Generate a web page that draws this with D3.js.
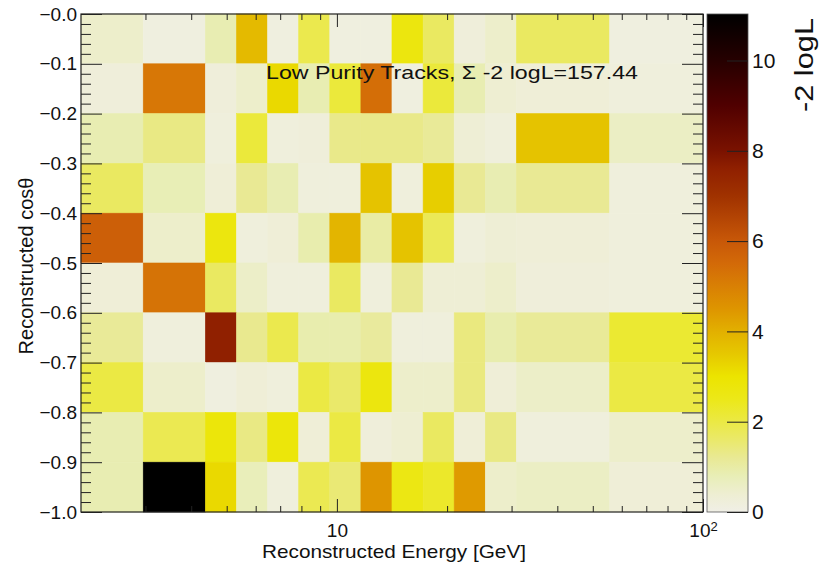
<!DOCTYPE html>
<html>
<head>
<meta charset="utf-8">
<script src="https://cdn.jsdelivr.net/npm/d3@7"></script>
<style>
  body { margin: 0; background: #fff; }
  svg { font-family: "Liberation Sans", Arial, sans-serif; }
</style>
</head>
<body>
<div id="chart"></div>
<script>
// bin edges of the 2D histogram
const energyEdges = [2, 2.958, 4.373, 5.318, 6.467, 7.864, 9.564, 11.63, 14.14, 17.20, 20.91, 25.43, 30.92, 55.61, 100]
const cosEdges = [0.0, -0.1, -0.2, -0.3, -0.4, -0.5, -0.6, -0.7, -0.8, -0.9, -1.0]

// -2 logL per cell, top row (cos 0 .. -0.1) first
const row0 = [0.5, 0.15, 0.85, 3.8, 0.15, 1.9, 0.15, 0.15, 2.7, 1.7, 0.25, 0.5, 1.7, 0.15]
const row1 = [0.25, 5.2, 0.25, 0.5, 3.2, 0.85, 2.1, 5.4, 0.15, 2.1, 0.85, 0.4, 0.3, 0.2]
const row2 = [0.85, 1.35, 0.2, 2.1, 0.2, 0.25, 1.3, 1.3, 1.3, 1.15, 0.35, 0.2, 3.6, 0.6]
const row3 = [1.7, 0.8, 0.3, 1.2, 0.85, 0.2, 0.2, 3.6, 0.2, 3.4, 1.2, 0.85, 1.2, 0.2]
const row4 = [5.8, 0.5, 2.7, 0.2, 0.3, 0.9, 3.9, 1.0, 3.6, 1.8, 0.2, 0.35, 0.3, 0.2]
const row5 = [0.3, 5.3, 1.7, 0.55, 0.2, 0.2, 1.7, 0.2, 1.2, 0.35, 0.35, 0.5, 0.25, 0.2]
const row6 = [1.15, 0.2, 7.6, 1.25, 1.9, 0.9, 0.9, 1.1, 0.2, 0.2, 1.4, 0.9, 1.15, 2.2]
const row7 = [2.0, 0.5, 0.15, 0.3, 0.2, 2.0, 1.6, 2.7, 0.5, 0.5, 1.4, 0.3, 0.55, 2.0]
const row8 = [0.85, 1.85, 2.8, 1.35, 2.8, 0.3, 2.0, 0.25, 0.4, 1.7, 0.3, 1.35, 0.2, 0.5]
const row9 = [0.85, 11.03, 3.2, 0.75, 0.2, 1.85, 1.5, 4.5, 2.6, 2.3, 4.4, 0.5, 0.6, 0.3]
const logL = [row0, row1, row2, row3, row4, row5, row6, row7, row8, row9]

const zMax = 11.03
const zTicks = [0, 2, 4, 6, 8, 10]
const xMajor = [10, 100]
const xMinor = [3, 4, 5, 6, 7, 8, 9, 20, 30, 40, 50, 60, 70, 80, 90]
const title = "Low Purity Tracks, \u03a3 -2 logL=157.44"

// palette (value, colour)
const palette = [
  [0, "#f0efe6"], [0.4, "#eeeed2"], [0.8, "#e8eeb6"], [1.2, "#e9e994"],
  [1.6, "#eae96a"], [2.0, "#ebe944"], [2.5, "#ece818"], [3.0, "#ece400"],
  [3.5, "#e6c800"], [4.0, "#e2b000"], [4.5, "#de9500"], [5.0, "#d98004"],
  [5.5, "#d36a08"], [6.0, "#c85808"], [7.0, "#a03200"], [7.6, "#902000"],
  [8.0, "#7a1200"], [9.0, "#500000"], [10.0, "#260000"], [11.03, "#000000"]
]

const width = 819
const height = 566
const L = 81, T = 14, R = 703, B = 512
const cbL = 707, cbR = 748

const svg = d3.select("#chart")
  .append("svg")
  .attr("width", width)
  .attr("height", height)

const x = d3.scaleLog().domain([2, 100]).range([L, R])
const y = d3.scaleLinear().domain([-1, 0]).range([B, T])
const z = d3.scaleLinear().domain([0, zMax]).range([B, T])
const color = d3.scaleLinear()
  .domain(palette.map(d => d[0]))
  .range(palette.map(d => d[1]))
  .clamp(true)

// cells
const cells = []
logL.forEach((row, i) => {
  row.forEach((v, j) => {
    cells.push({x0: energyEdges[j], x1: energyEdges[j + 1], y0: cosEdges[i], y1: cosEdges[i + 1], v: v})
  })
})

svg.append("g")
  .selectAll("rect")
  .data(cells)
  .join("rect")
    .attr("x", d => x(d.x0))
    .attr("y", d => y(d.y0))
    .attr("width", d => x(d.x1) - x(d.x0))
    .attr("height", d => y(d.y1) - y(d.y0))
    .attr("fill", d => color(d.v))
    .attr("stroke", d => color(d.v))
    .attr("stroke-width", 0.6)

// axes
function clean(g) {
  g.select(".domain").remove()
  g.selectAll(".tick line").attr("stroke", "#222")
}

svg.append("g").attr("transform", `translate(0,${B})`)
  .call(d3.axisBottom(x).tickValues(xMinor).tickSizeInner(-6).tickSizeOuter(0).tickFormat(""))
  .call(clean)

const gxMajor = svg.append("g").attr("transform", `translate(0,${B})`)
  .call(d3.axisBottom(x).tickValues(xMajor).tickSizeInner(-13).tickSizeOuter(0).tickPadding(12).tickFormat(d => "10"))
  .call(clean)
gxMajor.selectAll(".tick text")
  .attr("font-size", 19)
  .attr("fill", "#111")
  .attr("font-family", "Liberation Sans, Arial, sans-serif")
  .each(function(d) {
    if (d === 100) {
      d3.select(this).append("tspan").attr("dy", "-0.5em").attr("font-size", 13).text("2")
    }
  })

svg.append("g").attr("transform", `translate(0,${T})`)
  .call(d3.axisTop(x).tickValues(xMinor).tickSizeInner(-6).tickSizeOuter(0).tickFormat(""))
  .call(clean)
svg.append("g").attr("transform", `translate(0,${T})`)
  .call(d3.axisTop(x).tickValues(xMajor).tickSizeInner(-13).tickSizeOuter(0).tickFormat(""))
  .call(clean)

const yMinor = d3.range(-100, 1, 2).map(d => d / 100).filter(d => Math.round(d * 100) % 10 !== 0)
const fmtY = d => d === 0 ? "\u22120.0" : d3.format(".1f")(d)

const gy = svg.append("g").attr("transform", `translate(${L},0)`)
  .call(d3.axisLeft(y).tickValues(cosEdges).tickSizeInner(-21).tickSizeOuter(0).tickPadding(4).tickFormat(fmtY))
  .call(clean)
gy.selectAll(".tick text")
  .attr("font-size", 19)
  .attr("fill", "#111")
  .attr("font-family", "Liberation Sans, Arial, sans-serif")

svg.append("g").attr("transform", `translate(${L},0)`)
  .call(d3.axisLeft(y).tickValues(yMinor).tickSizeInner(-10).tickSizeOuter(0).tickFormat(""))
  .call(clean)
svg.append("g").attr("transform", `translate(${R},0)`)
  .call(d3.axisRight(y).tickValues(cosEdges).tickSizeInner(-21).tickSizeOuter(0).tickFormat(""))
  .call(clean)
svg.append("g").attr("transform", `translate(${R},0)`)
  .call(d3.axisRight(y).tickValues(yMinor).tickSizeInner(-10).tickSizeOuter(0).tickFormat(""))
  .call(clean)

// frame
svg.append("rect")
  .attr("x", L).attr("y", T)
  .attr("width", R - L).attr("height", B - T)
  .attr("fill", "none")
  .attr("stroke", "#222")
  .attr("stroke-width", 1.2)

// colour bar
const grad = svg.append("defs").append("linearGradient")
  .attr("id", "zgrad")
  .attr("x1", 0).attr("y1", 1).attr("x2", 0).attr("y2", 0)
grad.selectAll("stop")
  .data(palette)
  .join("stop")
    .attr("offset", d => d[0] / zMax)
    .attr("stop-color", d => d[1])

svg.append("rect")
  .attr("x", cbL).attr("y", T)
  .attr("width", cbR - cbL).attr("height", B - T)
  .attr("fill", "url(#zgrad)")
  .attr("stroke", "#555")
  .attr("stroke-width", 0.8)

const gz = svg.append("g").attr("transform", `translate(${cbR},0)`)
  .call(d3.axisRight(z).tickValues(zTicks).tickSizeInner(-21).tickSizeOuter(0).tickPadding(4).tickFormat(d3.format("d")))
  .call(clean)
gz.selectAll(".tick text")
  .attr("font-size", 21)
  .attr("fill", "#111")
  .attr("font-family", "Liberation Sans, Arial, sans-serif")

// texts
svg.append("text")
  .attr("x", 266)
  .attr("y", 79)
  .attr("font-size", 19)
  .attr("textLength", 372)
  .attr("lengthAdjust", "spacingAndGlyphs")
  .attr("fill", "#111")
  .text(title)

svg.append("text")
  .attr("x", 394)
  .attr("y", 558)
  .attr("text-anchor", "middle")
  .attr("font-size", 19)
  .attr("textLength", 264)
  .attr("lengthAdjust", "spacingAndGlyphs")
  .attr("fill", "#111")
  .text("Reconstructed Energy [GeV]")

svg.append("text")
  .attr("transform", "translate(33,266) rotate(-90)")
  .attr("text-anchor", "middle")
  .attr("font-size", 20)
  .attr("fill", "#111")
  .text("Reconstructed cos\u03b8")

svg.append("text")
  .attr("transform", "translate(813,18) rotate(-90)")
  .attr("text-anchor", "end")
  .attr("font-size", 25)
  .attr("textLength", 94)
  .attr("lengthAdjust", "spacingAndGlyphs")
  .attr("fill", "#111")
  .text("-2 logL")
</script>
</body>
</html>
